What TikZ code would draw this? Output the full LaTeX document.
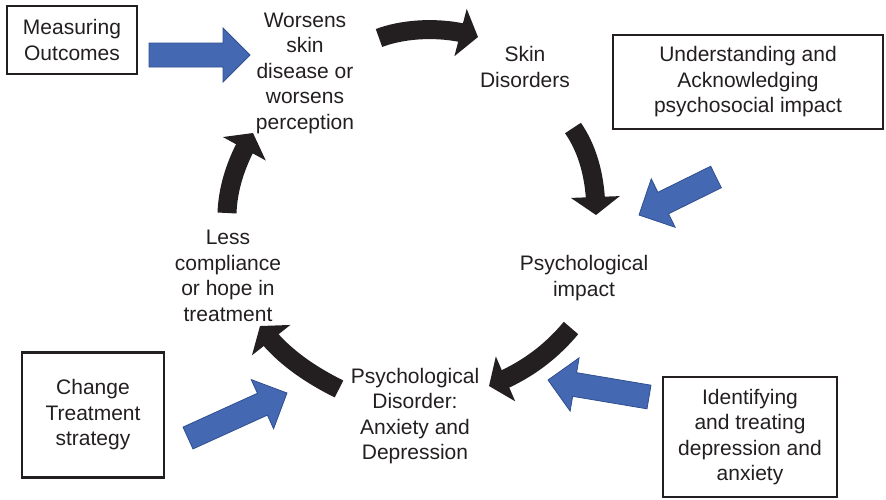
\documentclass[tikz,border=0pt]{standalone}
\usepackage{fontspec}
\setmainfont{Liberation Sans}
\usetikzlibrary{arrows.meta,bending,calc}

\definecolor{ink}{HTML}{231F20}
\definecolor{fillblue}{HTML}{4468B1}
\definecolor{edgeblue}{HTML}{2F4F8F}

\tikzset{
	txt/.style={align=center,text=ink,font=\fontsize{21}{25.5}\selectfont},
	box/.style={txt,draw=ink,line width=2.4pt,inner sep=0pt},
	cyclearrow/.style={draw=ink,line width=19pt,-{Triangle[width=48pt,length=18pt]}},
	bluearrow/.style={fill=fillblue,draw=edgeblue,line width=0.8pt,line join=miter}
}

\newcommand{\blockarrow}[2]{
	\coordinate (h) at ($(#2)!27pt!(#1)$);
	\draw[bluearrow] ($(#1)!12pt!90:(#2)$) -- ($(h)!12pt!90:(#2)$) -- ($(h)!27pt!90:(#2)$) -- (#2) -- ($(h)!27pt!-90:(#2)$) -- ($(h)!12pt!-90:(#2)$) -- ($(#1)!12pt!-90:(#2)$) -- cycle;
}

\begin{document}
\begin{tikzpicture}[x=1pt,y=-1pt]
		\useasboundingbox (0,0) rectangle (886,499);
		
		\node[txt] at (305,73) (worsen) {Worsens\\skin\\disease or\\worsens\\perception};
		\node[txt] at (525,67) (skin) {Skin\\Disorders};
		\node[txt] at (584,278) (impact) {Psychological\\impact};
		\node[txt] at (415,416) (disorder) {Psychological\\Disorder:\\Anxiety and\\Depression};
		\node[txt] at (228,276) (compliance) {Less\\compliance\\or hope in\\treatment};
		
		\node[box,minimum width=130,minimum height=68] at (72,40) (measure) {Measuring\\Outcomes};
		\node[box,minimum width=270,minimum height=94] at (748,82) (understand) {Understanding and\\Acknowledging\\psychosocial impact};
		\node[box,minimum width=174,minimum height=120] at (750,437) (identify) {Identifying\\and treating\\depression and\\anxiety};
		\node[box,minimum width=142,minimum height=125] at (93,415) (change) {Change\\Treatment\\strategy};
		
		\coordinate (s1) at (379,38);
		\coordinate (e1) at (478,37);
		\coordinate (s2) at (573,128);
		\coordinate (e2) at (596,215);
		\coordinate (s3) at (571,328);
		\coordinate (e3) at (489,386);
		\coordinate (s4) at (339,389);
		\coordinate (e4) at (260,326);
		\coordinate (s5) at (227,213);
		\coordinate (e5) at (253,133);
		
		\draw[cyclearrow] (s1) .. controls (405,28) and (445,26) .. (e1);
		\draw[cyclearrow] (s2) .. controls (588,150) and (596,178) .. (e2);
		\draw[cyclearrow] (s3) .. controls (550,353) and (525,372) .. (e3);
		\draw[cyclearrow] (s4) .. controls (305,372) and (278,352) .. (e4);
		\draw[cyclearrow] (s5) .. controls (228,185) and (238,158) .. (e5);
		
		\coordinate (b1) at (149,55);
		\coordinate (c1) at (250,55);
		\coordinate (b2) at (716,177);
		\coordinate (c2) at (639,215);
		\coordinate (b3) at (649,397);
		\coordinate (c3) at (548,380);
		\coordinate (b4) at (188,438);
		\coordinate (c4) at (287,393);
		
		\blockarrow{b1}{c1}
		\blockarrow{b2}{c2}
		\blockarrow{b3}{c3}
		\blockarrow{b4}{c4}
\end{tikzpicture}
\end{document}
